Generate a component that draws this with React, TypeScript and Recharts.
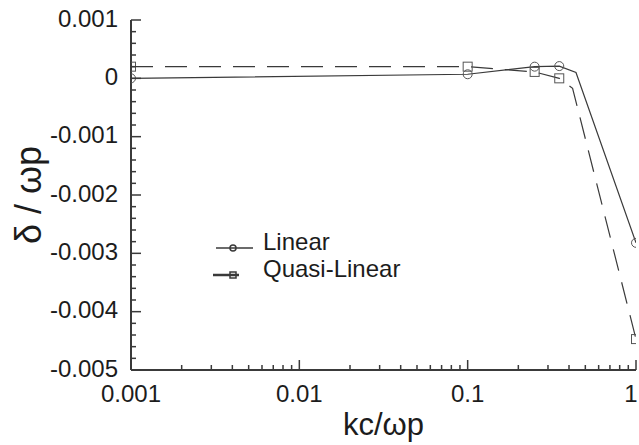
import { LineChart, Line, XAxis, YAxis, Legend } from "recharts";

// kc/ωp tick positions (log axis)
const kMajor = [0.001, 0.01, 0.1, 1];
const kMinor = [
  0.002, 0.003, 0.004, 0.005, 0.006, 0.007, 0.008, 0.009,
  0.02, 0.03, 0.04, 0.05, 0.06, 0.07, 0.08, 0.09,
  0.2, 0.3, 0.4, 0.5, 0.6, 0.7, 0.8, 0.9,
];

// δ/ωp tick positions
const deltaMajor = [0.001, 0, -0.001, -0.002, -0.003, -0.004, -0.005];
const deltaMinor = [
  0.0008, 0.0006, 0.0004, 0.0002,
  -0.0002, -0.0004, -0.0006, -0.0008,
  -0.0012, -0.0014, -0.0016, -0.0018,
  -0.0022, -0.0024, -0.0026, -0.0028,
  -0.0032, -0.0034, -0.0036, -0.0038,
  -0.0042, -0.0044, -0.0046, -0.0048,
];

// growth rate, linear theory
const linearK = [0.001, 0.1, 0.25, 0.35, 0.44, 1];
const linearDelta = [0, 0.00007, 0.0002, 0.00021, 0.0001, -0.00282];
const linearSymbol = [true, true, true, true, false, true];

// growth rate, quasi-linear theory
const quasiK = [0.001, 0.1, 0.25, 0.35, 0.42, 1];
const quasiDelta = [0.0002, 0.0002, 0.00011, 0, -0.00017, -0.00447];
const quasiSymbol = [true, true, true, true, false, true];

const linearData = linearK.map((k, i) => ({ k, delta: linearDelta[i], sym: linearSymbol[i] }));
const quasiData = quasiK.map((k, i) => ({ k, delta: quasiDelta[i], sym: quasiSymbol[i] }));

const FONT = '"Liberation Sans", Arial, Helvetica, sans-serif';
const INK = "#1c1c1c";
const LINE = "#3a3a3a";
const MARK = "#555";

const majorK = new Set(kMajor);
const majorDelta = new Set(deltaMajor);

function KTick({ x, y, payload }: any) {
  const major = majorK.has(payload.value);
  // keep the last label inside the page edge
  const lx = Math.min(x, 631);
  return (
    <g>
      <line x1={x} y1={y} x2={x} y2={y - (major ? 10 : 5)} stroke={LINE} strokeWidth={1.5} />
      {major && (
        <text x={lx} y={y + 23} textAnchor="middle" dominantBaseline="central" fontSize={24} fontFamily={FONT} fill={INK}>
          {String(payload.value)}
        </text>
      )}
    </g>
  );
}

function DeltaTick({ x, y, payload }: any) {
  const major = majorDelta.has(payload.value);
  return (
    <g>
      <line x1={x} y1={y} x2={x + (major ? 10 : 5)} y2={y} stroke={LINE} strokeWidth={1.5} />
      {major && (
        <text x={x - 13} y={y - 2} textAnchor="end" dominantBaseline="central" fontSize={24} fontFamily={FONT} fill={INK}>
          {String(payload.value)}
        </text>
      )}
    </g>
  );
}

function CircleDot({ cx, cy, index, payload }: any) {
  if (!payload.sym) return <g key={`c${index}`} />;
  return <circle key={`c${index}`} cx={cx} cy={cy} r={4.5} fill="none" stroke={MARK} strokeWidth={1} />;
}

function SquareDot({ cx, cy, index, payload }: any) {
  if (!payload.sym) return <g key={`s${index}`} />;
  return <rect key={`s${index}`} x={cx - 4.5} y={cy - 4.5} width={9} height={9} fill="none" stroke={MARK} strokeWidth={1} />;
}

function YTitle({ viewBox }: any) {
  const cx = 28;
  const cy = viewBox.y + viewBox.height / 2;
  return (
    <text x={cx} y={cy} transform={`rotate(-90 ${cx} ${cy})`} textAnchor="middle" dominantBaseline="central" fontSize={36} fontFamily={FONT} fill={INK}>
      δ / ωp
    </text>
  );
}

function KeyBox() {
  return (
    <svg width={220} height={60} style={{ display: "block" }}>
      <line x1={11} y1={23} x2={48} y2={23} stroke={LINE} strokeWidth={1.5} />
      <circle cx={28} cy={23} r={3} fill="none" stroke={LINE} strokeWidth={1.5} />
      <text x={58} y={16} dominantBaseline="central" fontSize={24} fontFamily={FONT} fill={INK}>Linear</text>
      <line x1={8} y1={50} x2={34} y2={50} stroke={LINE} strokeWidth={2.5} />
      <rect x={25} y={47} width={6} height={6} fill="none" stroke={LINE} strokeWidth={1.5} />
      <text x={58} y={43} dominantBaseline="central" fontSize={24} fontFamily={FONT} fill={INK}>Quasi-Linear</text>
    </svg>
  );
}

export default function App() {
  return (
    <div style={{ position: "absolute", left: 0, top: 0, width: 639, height: 445, background: "#fff" }}>
      <LineChart width={639} height={445} margin={{ top: 20, right: 3, bottom: 0, left: 0 }}>
        <XAxis
          type="number"
          dataKey="k"
          scale="log"
          domain={[0.001, 1]}
          ticks={[...kMajor, ...kMinor]}
          interval={0}
          allowDataOverflow
          height={75}
          tickSize={0}
          tickMargin={0}
          tickLine={false}
          tick={<KTick />}
          axisLine={{ stroke: LINE, strokeWidth: 2 }}
          label={{ value: "kc/ωp", position: "insideBottom", offset: 10, fontSize: 31, fontFamily: FONT, fill: INK }}
        />
        <YAxis
          type="number"
          dataKey="delta"
          domain={[-0.005, 0.001]}
          ticks={[...deltaMajor, ...deltaMinor]}
          interval={0}
          allowDataOverflow
          width={131}
          tickSize={0}
          tickMargin={0}
          tickLine={false}
          tick={<DeltaTick />}
          axisLine={{ stroke: LINE, strokeWidth: 2 }}
          label={<YTitle />}
        />
        <Legend
          layout="vertical"
          align="center"
          verticalAlign="middle"
          content={() => <KeyBox />}
          wrapperStyle={{ left: 205, top: 225, width: 220, height: 60 }}
        />
        <Line
          data={linearData}
          dataKey="delta"
          name="Linear"
          type="linear"
          stroke={LINE}
          strokeWidth={1.2}
          dot={<CircleDot />}
          isAnimationActive={false}
        />
        <Line
          data={quasiData}
          dataKey="delta"
          name="Quasi-Linear"
          type="linear"
          stroke={LINE}
          strokeWidth={1.2}
          strokeDasharray="22 12"
          dot={<SquareDot />}
          isAnimationActive={false}
        />
      </LineChart>
    </div>
  );
}
